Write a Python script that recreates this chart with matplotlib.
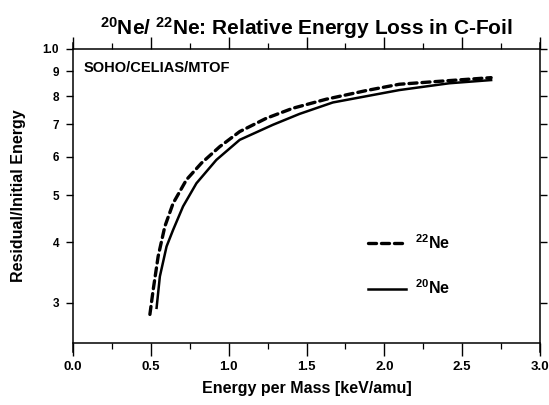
import matplotlib
matplotlib.use("Agg")
import matplotlib.pyplot as plt
from matplotlib.ticker import FixedLocator, FixedFormatter, MultipleLocator, NullLocator, FormatStrFormatter

plt.rcParams['font.family'] = ['Liberation Sans', 'DejaVu Sans']
plt.rcParams['font.weight'] = 'bold'
plt.rcParams['mathtext.fontset'] = 'custom'
plt.rcParams['mathtext.rm'] = 'Liberation Sans:bold'
plt.rcParams['mathtext.default'] = 'rm'

# 22Ne (dashed)
ne22_x = [0.494, 0.515, 0.547, 0.590, 0.643, 0.729, 0.825, 0.942, 1.071, 1.242,
          1.412, 1.626, 1.883, 2.096, 2.310, 2.641, 2.686]
ne22_y = [0.284, 0.319, 0.374, 0.431, 0.481, 0.538, 0.582, 0.629, 0.676, 0.720,
          0.755, 0.788, 0.821, 0.846, 0.856, 0.871, 0.873]
# 20Ne (solid)
ne20_x = [0.537, 0.558, 0.601, 0.643, 0.707, 0.793, 0.921, 1.071, 1.284, 1.455,
          1.669, 2.096, 2.417, 2.686]
ne20_y = [0.293, 0.340, 0.392, 0.424, 0.474, 0.529, 0.591, 0.650, 0.698, 0.735,
          0.776, 0.823, 0.850, 0.863]

y_ticks = [0.3, 0.4, 0.5, 0.6, 0.7, 0.8, 0.9, 1.0]
y_ticklabels = ['3', '4', '5', '6', '7', '8', '9', '1.0']

fig = plt.figure(figsize=(5.49, 4.05), dpi=100)
ax = fig.add_axes([73/549, 1-343/405, (540-73)/549, (343-49)/405])

ax.plot(ne22_x, ne22_y, color='black', lw=2.4, linestyle=(0, (2.4, 1.5)),
        dash_capstyle='round', label='$^{22}$Ne')
ax.plot(ne20_x, ne20_y, color='black', lw=1.8, label='$^{20}$Ne')

ax.set_yscale('log')
ax.set_xlim(0, 3.0)
ax.set_ylim(0.248, 1.0)

ax.yaxis.set_major_locator(FixedLocator(y_ticks))
ax.yaxis.set_major_formatter(FixedFormatter(y_ticklabels))
ax.yaxis.set_minor_locator(NullLocator())
ax.xaxis.set_major_locator(MultipleLocator(0.5))
ax.xaxis.set_minor_locator(MultipleLocator(0.25))
ax.xaxis.set_major_formatter(FormatStrFormatter('%.1f'))

ax.tick_params(axis='x', which='major', direction='out', length=9, width=1.0,
               top=True, bottom=True, labelsize=9.5, pad=4)
ax.tick_params(axis='x', which='minor', direction='out', length=4, width=0.9,
               top=True, bottom=True)
ax.tick_params(axis='y', which='major', direction='out', length=5, width=1.0,
               left=True, right=True, labelsize=8.5, pad=5)

for s in ax.spines.values():
    s.set_linewidth(1.1)
ax.spines['left'].set_bounds(0.238, 1.03)
ax.spines['right'].set_bounds(0.238, 1.03)

for lab in ax.get_xticklabels() + ax.get_yticklabels():
    lab.set_fontweight('bold')

ax.set_xlabel('Energy per Mass [keV/amu]', fontsize=11.5, fontweight='bold', labelpad=6)
ax.set_ylabel('Residual/Initial Energy', fontsize=11.5, fontweight='bold', labelpad=12)
ax.set_title('$^{20}$Ne/ $^{22}$Ne: Relative Energy Loss in C-Foil',
             fontsize=15, fontweight='bold', pad=10)

ax.text(0.022, 0.935, 'SOHO/CELIAS/MTOF', transform=ax.transAxes, fontsize=10.5,
        fontweight='bold', va='center', ha='left')

leg = ax.legend(loc='center left', bbox_to_anchor=(0.6, 0.265), frameon=False,
                handlelength=2.4, labelspacing=1.7, fontsize=11.5, handletextpad=0.6)

fig.savefig('out.png', dpi=100)
